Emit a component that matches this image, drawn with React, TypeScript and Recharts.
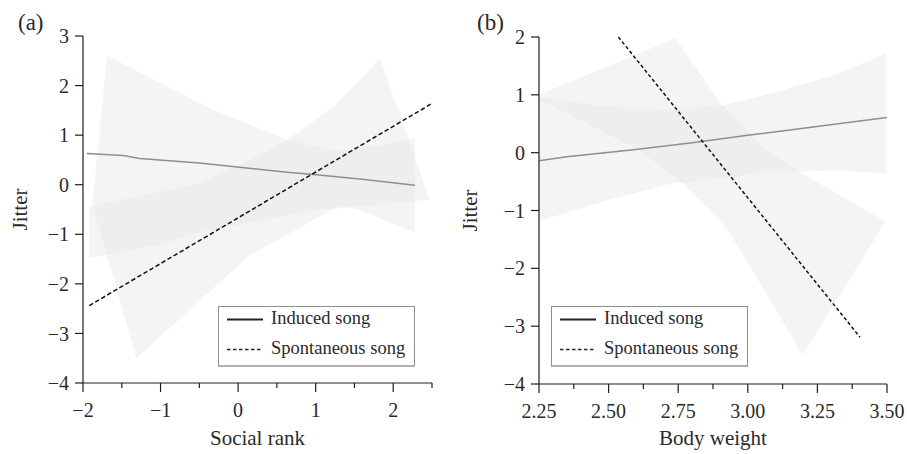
import React from 'react';
import { ComposedChart, Area, Line, XAxis, YAxis, Legend } from 'recharts';

const FONT = '"Liberation Serif", "Times New Roman", serif';
const AXIS = '#1e1e1e';
const TEXT = '#2a2a2a';
const BAND = '#e4e4e4';
const IND = '#8e8e8e';

// ---------- Panel (a): Social rank ----------
const aYTicks = [-4, -3, -2, -1, 0, 1, 2, 3];
const aXMajor = [-2, -1, 0, 1, 2];
const aXMinor = [-1.5, -0.5, 0.5, 1.5, 2.5];

const aInducedX = [-1.95, -1.48, -1.27, -0.5, 0.02, 0.63, 1.01, 1.6, 2.28];
const aInducedY = [0.63, 0.59, 0.53, 0.44, 0.35, 0.25, 0.2, 0.11, -0.01];

const aSpontX = [-1.92, 2.5];
const aSpontY = [-2.44, 1.64];

const aBandIndX = [-1.88, -1.81, -1.69, -1.31, -0.32, -0.06, 0.155, 0.63, 1.25, 1.32, 1.61, 1.8, 2.28];
const aBandIndLow = [-0.4, -0.78, -1.43, -3.5, -2.09, -1.72, -1.42, -1.01, -0.47, -0.41, -0.54, -0.66, -0.97];
const aBandIndHigh = [-0.4, 0.7, 2.6, 2.3, 1.51, 1.34, 1.21, 0.9, 0.68, 0.69, 0.74, 0.78, 0.94];

const aBandSpX = [-1.92, -1.0, -0.49, 0.2, 0.41, 0.63, 0.8, 1.23, 1.66, 1.83, 2.2, 2.47];
const aBandSpLow = [-1.48, -1.2, -0.95, -0.75, -0.68, -0.61, -0.55, -0.485, -0.42, -0.395, -0.34, -0.3];
const aBandSpHigh = [-0.44, -0.14, 0.03, 0.54, 0.7, 0.9, 1.09, 1.57, 2.27, 2.55, 0.9, -0.3];

// ---------- Panel (b): Body weight ----------
const bYTicks = [-4, -3, -2, -1, 0, 1, 2];
const bXMajor = [2.25, 2.5, 2.75, 3.0, 3.25, 3.5];
const bXMinor = [2.375, 2.625, 2.875, 3.125, 3.375];

const bInducedX = [2.25, 2.35, 2.59, 2.8, 3.0, 3.13, 3.5];
const bInducedY = [-0.14, -0.07, 0.05, 0.17, 0.3, 0.38, 0.61];

const bSpontX = [2.535, 3.403];
const bSpontY = [2.0, -3.19];

const bBandIndX = [2.25, 2.49, 2.73, 2.91, 3.09, 3.33, 3.495];
const bBandIndLow = [-1.18, -0.83, -0.53, -0.44, -0.33, -0.31, -0.36];
const bBandIndHigh = [0.95, 0.8, 0.74, 0.82, 1.03, 1.37, 1.72];

const bBandSpX = [2.25, 2.61, 2.74, 2.765, 2.897, 2.92, 3.016, 3.064, 3.196, 3.256, 3.495];
const bBandSpLow = [0.92, 0.046, -0.44, -0.53, -1.17, -1.28, -2.03, -2.42, -3.5, -3.04, -1.19];
const bBandSpHigh = [1.0, 1.72, 1.98, 1.81, 0.88, 0.77, 0.285, 0.046, -0.35, -0.53, -1.19];

const seriesNames = ['Induced song', 'Spontaneous song'];

const pts = (xs: number[], ys: number[]) => xs.map((x, i) => ({ x, y: ys[i] }));
const band = (xs: number[], lo: number[], hi: number[]) => xs.map((x, i) => ({ x, r: [lo[i], hi[i]] }));

const minusFmt = (v: number) => (v < 0 ? '\u2212' + Math.abs(v) : String(v));
const fixed2 = (v: number) => v.toFixed(2);

const makeXTick = (majors: number[], fmt: (v: number) => string) => (props: any) => {
  const { x, y, payload } = props;
  const v = payload.value;
  const isMajor = majors.some((m) => Math.abs(m - v) < 1e-9);
  return (
    <g>
      <line x1={x} x2={x} y1={y} y2={y + (isMajor ? 9 : 5)} stroke={AXIS} strokeWidth={1.2} />
      {isMajor && (
        <text x={x} y={y + 34} textAnchor="middle" fontSize={20} fontFamily={FONT} fill={TEXT}>
          {fmt(v)}
        </text>
      )}
    </g>
  );
};

const LegendBox = () => (
  <div
    style={{
      boxSizing: 'border-box',
      width: 197,
      height: 61,
      border: '1px solid #8e8e8e',
      borderBottom: '2px solid #b0b0b0',
      background: '#fff',
    }}
  >
    <svg width={195} height={58} style={{ display: 'block' }}>
      <line x1={8} x2={44} y1={12.5} y2={12.5} stroke="#222" strokeWidth={2} />
      <text x={52} y={17} fontSize={18.5} fontFamily={FONT} fill={TEXT}>
        {seriesNames[0]}
      </text>
      <line x1={8} x2={44} y1={42.5} y2={42.5} stroke="#222" strokeWidth={1.5} strokeDasharray="3.5 2.5" />
      <text x={52} y={47} fontSize={18.5} fontFamily={FONT} fill={TEXT}>
        {seriesNames[1]}
      </text>
    </svg>
  </div>
);

type PanelProps = {
  left: number;
  width: number;
  top: number;
  bottomAxisH: number;
  yAxisW: number;
  rightMargin: number;
  xDomain: [number, number];
  yDomain: [number, number];
  yTicks: number[];
  xMajor: number[];
  xMinor: number[];
  xFmt: (v: number) => string;
  xLabel: string;
  yLabelOffset: number;
  bandInd: any[];
  bandSp: any[];
  induced: any[];
  spont: any[];
  legendLeft: number;
  dash: string;
};

const Panel = (p: PanelProps) => {
  const ticks = [...p.xMajor, ...p.xMinor].sort((a, b) => a - b);
  return (
    <div style={{ position: 'absolute', left: p.left, top: 0 }}>
      <ComposedChart
        width={p.width}
        height={454}
        margin={{ top: p.top, right: p.rightMargin, bottom: 0, left: 0 }}
      >
        <XAxis
          type="number"
          dataKey="x"
          domain={p.xDomain}
          allowDataOverflow
          ticks={ticks}
          interval={0}
          height={p.bottomAxisH}
          tickSize={0}
          tickMargin={0}
          tickLine={false}
          tick={makeXTick(p.xMajor, p.xFmt)}
          axisLine={{ stroke: AXIS, strokeWidth: 1.2 }}
          label={{ value: p.xLabel, position: 'insideBottom', offset: 9, fontSize: 21, fontFamily: FONT, fill: TEXT }}
        />
        <YAxis
          type="number"
          domain={p.yDomain}
          allowDataOverflow
          ticks={p.yTicks}
          interval={0}
          width={p.yAxisW}
          tickSize={8}
          tickMargin={6}
          tickFormatter={minusFmt}
          tick={{ fontSize: 20, fontFamily: FONT, fill: TEXT }}
          tickLine={{ stroke: AXIS, strokeWidth: 1.2 }}
          axisLine={{ stroke: AXIS, strokeWidth: 1.2 }}
          label={{
            value: 'Jitter',
            angle: -90,
            position: 'insideLeft',
            offset: p.yLabelOffset,
            fontSize: 21,
            fontFamily: FONT,
            fill: TEXT,
            style: { textAnchor: 'middle' },
          }}
        />
        <Area
          data={p.bandInd}
          dataKey="r"
          type="linear"
          stroke="none"
          fill={BAND}
          fillOpacity={0.42}
          isAnimationActive={false}
          legendType="none"
          activeDot={false}
        />
        <Area
          data={p.bandSp}
          dataKey="r"
          type="linear"
          stroke="none"
          fill={BAND}
          fillOpacity={0.42}
          isAnimationActive={false}
          legendType="none"
          activeDot={false}
        />
        <Line
          data={p.induced}
          dataKey="y"
          name={seriesNames[0]}
          type="linear"
          stroke={IND}
          strokeWidth={1.5}
          dot={false}
          activeDot={false}
          isAnimationActive={false}
        />
        <Line
          data={p.spont}
          dataKey="y"
          name={seriesNames[1]}
          type="linear"
          stroke="#111"
          strokeWidth={1.5}
          strokeDasharray={p.dash}
          dot={false}
          activeDot={false}
          isAnimationActive={false}
        />
        <Legend
          layout="horizontal"
          verticalAlign="middle"
          align="center"
          wrapperStyle={{ left: p.legendLeft, top: 306, width: 197, height: 61, margin: 0 }}
          content={() => <LegendBox />}
        />
      </ComposedChart>
    </div>
  );
};

export default function App() {
  return (
    <div
      style={{
        position: 'absolute',
        left: 0,
        top: 0,
        width: 907,
        height: 454,
        background: '#fff',
        fontFamily: FONT,
        overflow: 'hidden',
      }}
    >
      <Panel
        left={0}
        width={453}
        top={36}
        bottomAxisH={71}
        yAxisW={83}
        rightMargin={21}
        xDomain={[-2, 2.5]}
        yDomain={[-4, 3]}
        yTicks={aYTicks}
        xMajor={aXMajor}
        xMinor={aXMinor}
        xFmt={minusFmt}
        xLabel="Social rank"
        yLabelOffset={20}
        bandInd={band(aBandIndX, aBandIndLow, aBandIndHigh)}
        bandSp={band(aBandSpX, aBandSpLow, aBandSpHigh)}
        induced={pts(aInducedX, aInducedY)}
        spont={pts(aSpontX, aSpontY)}
        legendLeft={218}
        dash="4.5 2.5"
      />
      <Panel
        left={453}
        width={454}
        top={37}
        bottomAxisH={70}
        yAxisW={86}
        rightMargin={20}
        xDomain={[2.25, 3.5]}
        yDomain={[-4, 2]}
        yTicks={bYTicks}
        xMajor={bXMajor}
        xMinor={bXMinor}
        xFmt={fixed2}
        xLabel="Body weight"
        yLabelOffset={17}
        bandInd={band(bBandIndX, bBandIndLow, bBandIndHigh)}
        bandSp={band(bBandSpX, bBandSpLow, bBandSpHigh)}
        induced={pts(bInducedX, bInducedY)}
        spont={pts(bSpontX, bSpontY)}
        legendLeft={98}
        dash="3.5 2.5"
      />
      <span style={{ position: 'absolute', left: 18, top: 9, fontSize: 23, color: TEXT, lineHeight: '28px' }}>(a)</span>
      <span style={{ position: 'absolute', left: 477, top: 9, fontSize: 23, color: TEXT, lineHeight: '28px' }}>(b)</span>
    </div>
  );
}
